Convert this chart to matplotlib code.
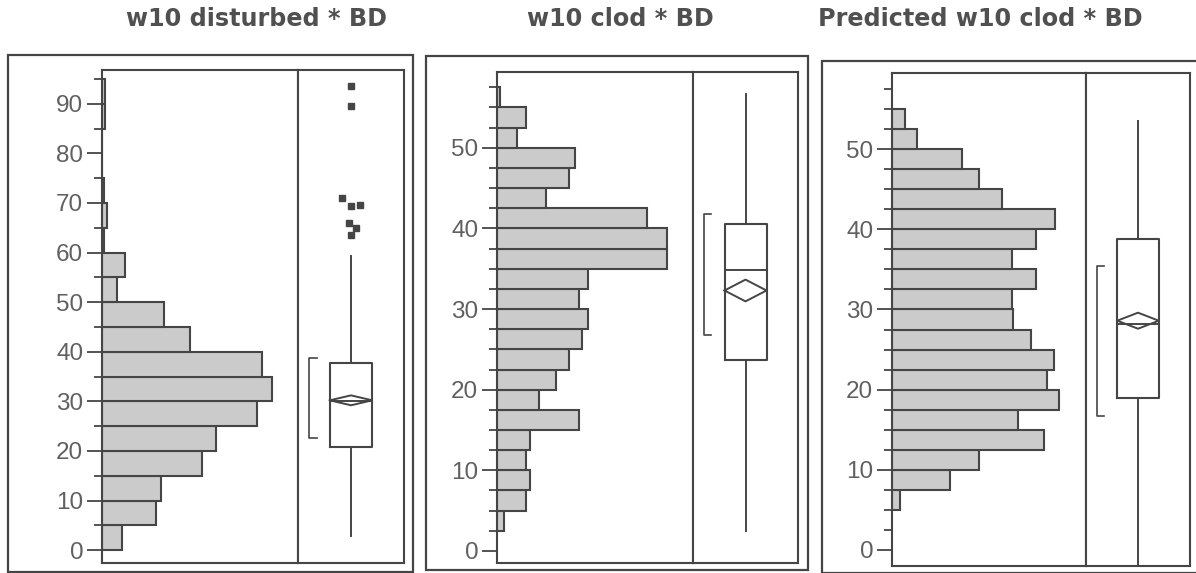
import numpy as np
import matplotlib.pyplot as plt
from matplotlib.patches import Rectangle

# ---- data ----
titles = ["w10 disturbed * BD", "w10 clod * BD", "Predicted w10 clod * BD"]

# panel 1: w10 disturbed, bins of width 5 starting at 0
bins1_start, bins1_width = 0, 5
counts1 = [12, 33, 36, 61, 70, 95, 104, 98, 54, 38, 9, 14, 1, 3, 1, 0, 0, 2, 2]

# panel 2: w10 clod, bins of width 2.5 starting at 2.5
bins2_start, bins2_width = 2.5, 2.5
counts2 = [2, 9, 10, 9, 10, 25, 13, 18, 22, 26, 28, 25, 28, 52, 52, 46, 15, 22, 24, 6, 9, 1]

# panel 3: predicted w10 clod, bins of width 2.5 starting at 5
bins3_start, bins3_width = 5, 2.5
counts3 = [2.4, 18, 27, 47, 39, 51.5, 48, 50, 43, 37.4, 37, 44.5, 37, 44.5, 50.3, 34, 27, 21.6, 7.7, 4.1]

# box plot summaries: whisker low, q1, median, q3, whisker high
box1 = dict(whislo=2.8, q1=20.8, med=30.1, q3=37.8, whishi=59.3)
box2 = dict(whislo=2.5, q1=23.7, med=34.9, q3=40.6, whishi=56.7)
box3 = dict(whislo=-3.0, q1=18.9, med=28.2, q3=38.8, whishi=53.5)

# mean and half-height of the mean diamond (confidence interval)
means = [30.2, 32.3, 28.6]
mean_ci = [1.0, 1.35, 1.0]

# shortest half brackets (low, high)
short_half = [(22.7, 38.7), (26.8, 41.8), (16.7, 35.4)]

# outliers of panel 1 and their horizontal jitter
outliers1 = [93.5, 89.6, 70.9, 69.3, 69.6, 66.0, 64.9, 63.5]
outlier_jitter1 = [0, 0, -0.085, 0, 0.088, -0.02, 0.05, 0]

# ---- layout (pixels of the 1196 x 573 picture) ----
W, H = 1196, 573
ink = "#454545"
label_grey = "#606060"
bar_grey = "#cbcbcb"

fig = plt.figure(figsize=(W / 100, H / 100), dpi=100)


def px(x0, y0, x1, y1):
    return [x0 / W, 1 - y1 / H, (x1 - x0) / W, (y1 - y0) / H]


frames = [(8, 55, 413, 572), (426, 56, 808, 570), (822, 61, 1199, 573)]
hist_boxes = [(102, 70, 298, 563), (497, 72, 693, 563), (892, 73, 1086, 566)]
box_boxes = [(298, 70, 404, 563), (693, 72, 798, 563), (1086, 73, 1190, 566)]
title_x = [256, 620, 980]
ylims = [(-2.6, 96.8), (-1.5, 59.4), (-2.0, 59.5)]
xmax = [120, 60, 60]

panels = [
    (bins1_start, bins1_width, counts1, box1),
    (bins2_start, bins2_width, counts2, box2),
    (bins3_start, bins3_width, counts3, box3),
]

for i, (start, width, counts, box) in enumerate(panels):
    # outer frame and title
    x0, y0, x1, y1 = frames[i]
    fig.patches.append(Rectangle((x0 / W, 1 - y1 / H), (x1 - x0) / W, (y1 - y0) / H,
                                 transform=fig.transFigure, fill=False,
                                 edgecolor=ink, linewidth=1.6))
    fig.text(title_x[i] / W, 1 - 19 / H, titles[i], ha="center", va="center",
             fontsize=17.2, fontweight="bold", color="#505050", family="DejaVu Sans")

    # histogram
    ax = fig.add_axes(px(*hist_boxes[i]))
    edges = start + width * np.arange(len(counts))
    ax.barh(edges, counts, height=width, align="edge", color=bar_grey,
            edgecolor=ink, linewidth=1.5)
    ax.set_xlim(0, xmax[i])
    ax.set_ylim(*ylims[i])
    ax.set_xticks([])
    if i == 0:
        ax.set_yticks(np.arange(0, 91, 10))
        ax.set_yticks(np.arange(5, 96, 10), minor=True)
    else:
        ax.set_yticks(np.arange(0, 51, 10))
        minor = [v for v in np.arange(0, 58, 2.5) if v % 10 != 0]
        ax.set_yticks(minor, minor=True)
    ax.tick_params(axis="y", which="major", length=11, width=1.3, color=ink,
                   labelsize=17.5, labelcolor=label_grey, pad=2.5)
    ax.tick_params(axis="y", which="minor", length=6, width=1.3, color=ink)
    for lab in ax.get_yticklabels():
        lab.set_family("Liberation Sans")
    for s in ax.spines.values():
        s.set_color(ink)
        s.set_linewidth(1.5)

    # box plot
    bx = fig.add_axes(px(*box_boxes[i]))
    stats = [dict(box, fliers=[], label="")]
    bx.bxp(stats, positions=[0.5], widths=0.4, showcaps=False, showfliers=False,
           boxprops=dict(color=ink, linewidth=1.5),
           whiskerprops=dict(color=ink, linewidth=1.4),
           medianprops=dict(color=ink, linewidth=1.4))
    # mean diamond
    m, c = means[i], mean_ci[i]
    bx.plot([0.3, 0.5, 0.7, 0.5, 0.3], [m, m + c, m, m - c, m], color=ink, linewidth=1.4)
    # shortest half bracket
    lo, hi = short_half[i]
    bx.plot([0.175, 0.105, 0.105, 0.175], [hi, hi, lo, lo], color=ink, linewidth=1.2)
    if i == 0:
        bx.plot(0.5 + np.array(outlier_jitter1), outliers1, linestyle="none",
                marker="s", markersize=4, color=ink)
    bx.set_xlim(0, 1)
    bx.set_ylim(*ylims[i])
    bx.set_xticks([])
    bx.set_yticks([])
    for s in bx.spines.values():
        s.set_color(ink)
        s.set_linewidth(1.5)

fig.savefig("out.png", dpi=100)
